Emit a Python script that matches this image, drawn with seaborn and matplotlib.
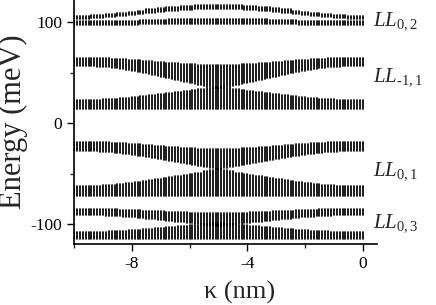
import numpy as np
import pandas as pd
import seaborn as sns
import matplotlib.pyplot as plt
from matplotlib.ticker import MultipleLocator

# kappa grid (nm), one vertical line per value
kappa = [-10.0, -9.9, -9.8, -9.7, -9.6, -9.5, -9.4, -9.3, -9.2, -9.1,
         -9.0, -8.9, -8.8, -8.7, -8.6, -8.5, -8.4, -8.3, -8.2, -8.1,
         -8.0, -7.9, -7.8, -7.7, -7.6, -7.5, -7.4, -7.3, -7.2, -7.1,
         -7.0, -6.9, -6.8, -6.7, -6.6, -6.5, -6.4, -6.3, -6.2, -6.1,
         -6.0, -5.9, -5.8, -5.7, -5.6, -5.5, -5.4, -5.3, -5.2, -5.1,
         -5.0, -4.9, -4.8, -4.7, -4.6, -4.5, -4.4, -4.3, -4.2, -4.1,
         -4.0, -3.9, -3.8, -3.7, -3.6, -3.5, -3.4, -3.3, -3.2, -3.1,
         -3.0, -2.9, -2.8, -2.7, -2.6, -2.5, -2.4, -2.3, -2.2, -2.1,
         -2.0, -1.9, -1.8, -1.7, -1.6, -1.5, -1.4, -1.3, -1.2, -1.1,
         -1.0, -0.9, -0.8, -0.7, -0.6, -0.5, -0.4, -0.3, -0.2, -0.1, 0.0]

# LL(0,2) pair
a_lo = [103, 103, 103, 103, 103, 103, 104, 104, 104, 104, 104, 105, 105, 105, 105,
        106, 106, 106, 106, 107, 107, 107, 108, 108, 108, 109, 109, 109, 109,
        110, 110, 110, 111, 111, 111, 111, 111, 112, 112, 112, 112, 112,
        113, 113, 113, 113, 113, 113, 113, 113, 113, 113, 113, 113, 113, 113, 113, 113, 113,
        112, 112, 112, 112, 112, 111, 111, 111, 111, 111, 110, 110, 110,
        109, 109, 109, 109, 108, 108, 108, 107, 107, 107, 106, 106, 106, 106,
        105, 105, 105, 105, 104, 104, 104, 104, 104, 103, 103, 103, 103, 103, 103]
a_hi = [106, 106, 106, 106, 106, 106, 107, 107, 107, 107, 107, 108, 108, 108, 108,
        109, 109, 109, 109, 110, 110, 110, 111, 111, 111, 113, 113, 113, 113,
        114, 114, 114, 115, 115, 115, 115, 115, 116, 116, 116, 116, 116,
        117, 117, 117, 117, 117, 117, 117, 117, 117, 117, 117, 117, 117, 117, 117, 117, 117,
        116, 116, 116, 116, 116, 115, 115, 115, 115, 115, 114, 114, 114,
        113, 113, 113, 113, 111, 111, 111, 110, 110, 110, 109, 109, 109, 109,
        108, 108, 108, 108, 107, 107, 107, 107, 107, 106, 106, 106, 106, 106, 106]
b_lo = [97, 97, 97, 97, 97, 97, 97, 97, 97, 97, 97, 97, 97, 97, 97, 97, 97, 97, 97, 97, 97, 97, 97,
        98, 98, 98, 98, 98, 98, 98, 98, 98, 98, 98, 98, 98, 98, 98, 98, 98, 98, 98, 98, 98, 98, 98, 98, 98, 98, 98,
        98, 98, 98, 98, 98, 98, 98, 98, 98, 98, 98, 98, 98, 98, 98, 98, 98, 98, 98, 98, 98, 98, 98, 98, 98, 98, 98, 98,
        97, 97, 97, 97, 97, 97, 97, 97, 97, 97, 97, 97, 97, 97, 97, 97, 97, 97, 97, 97, 97, 97, 97]
b_hi = [101, 101, 101, 101, 101, 101, 101, 101, 101, 101, 101, 101, 101, 101, 101, 101, 101, 101, 101, 101, 101, 101, 101,
        102, 102, 102, 102, 102, 102, 102, 102, 102, 102,
        103, 103, 103, 103, 103, 103, 103, 103, 103, 103, 103, 103, 103, 103, 103, 103, 103, 103,
        103, 103, 103, 103, 103, 103, 103, 103, 103, 103, 103, 103, 103, 103, 103, 103, 103,
        102, 102, 102, 102, 102, 102, 102, 102, 102, 102,
        101, 101, 101, 101, 101, 101, 101, 101, 101, 101, 101, 101, 101, 101, 101, 101, 101, 101, 101, 101, 101, 101, 101]

# LL(-1,1) pair
c_lo = [57, 57, 57, 57, 57, 57, 57, 57, 56, 56, 56, 56, 56, 55, 55, 55, 54, 54, 53, 53, 52, 52,
        51, 51, 50, 50, 49, 48, 48, 47, 46, 46, 45, 45, 44, 43, 43, 42, 41, 41, 40, 40, 39,
        38, 38, 37, 36, 36, 35, 35, 34,
        35, 35, 36, 36, 37, 38, 38, 39, 40, 40, 41, 41, 42, 43, 43, 44, 45, 45, 46, 46, 47,
        48, 48, 49, 50, 50, 51, 51, 52, 52, 53, 53, 54, 54, 55, 55, 55, 56, 56, 56, 56, 56,
        57, 57, 57, 57, 57, 57, 57, 57]
c_hi = [65, 65, 65, 65, 65, 65, 65, 65, 65, 65, 65, 65, 65, 64, 64, 64, 64, 64, 64,
        63, 63, 63, 63, 63, 62, 62, 62, 62, 61, 61, 61, 61, 60, 60, 60, 60, 60,
        59, 59, 59, 59, 59, 59, 58, 58, 58, 58, 58, 58, 58, 58, 58, 58, 58, 58, 58, 58, 58,
        59, 59, 59, 59, 59, 59, 60, 60, 60, 60, 60, 61, 61, 61, 61, 62, 62, 62, 62,
        63, 63, 63, 63, 63, 64, 64, 64, 64, 64, 64, 65, 65, 65, 65, 65, 65, 65, 65, 65, 65, 65, 65, 65]
d_lo = [14, 14, 14, 14, 14, 14, 14, 14, 14, 14, 14, 14, 14, 14, 14, 14, 14, 14, 14, 14,
        14, 14, 14, 14, 14, 14, 14, 14, 14, 14, 14, 14, 14, 14, 14, 14, 14, 14, 14, 14,
        14, 14, 14, 14, 14, 14, 14, 14, 14, 14, 14, 14, 14, 14, 14, 14, 14, 14, 14, 14,
        14, 14, 14, 14, 14, 14, 14, 14, 14, 14, 14, 14, 14, 14, 14, 14, 14, 14, 14, 14,
        14, 14, 14, 14, 14, 14, 14, 14, 14, 14, 14, 14, 14, 14, 14, 14, 14, 14, 14, 14, 14]
d_hi = [23, 23, 23, 23, 23, 23, 23, 23, 23, 23, 24, 24, 24, 24, 24, 24, 25, 25, 25, 25,
        26, 26, 26, 27, 27, 27, 28, 28, 28, 29, 29, 29, 30, 30, 30, 31, 31, 31, 32, 32, 32,
        33, 33, 34, 34, 34, 35, 35, 35, 36, 36, 36, 35, 35, 35, 34, 34, 34, 33, 33,
        32, 32, 32, 31, 31, 31, 30, 30, 30, 29, 29, 29, 28, 28, 28, 27, 27, 27, 26, 26, 26,
        25, 25, 25, 25, 24, 24, 24, 24, 24, 24, 23, 23, 23, 23, 23, 23, 23, 23, 23, 23]

# LL(0,1) pair
e_lo = [-28, -28, -28, -28, -28, -28, -28, -28, -28, -29, -29, -29, -29, -29,
        -30, -30, -30, -31, -31, -31, -32, -32, -33, -33, -33, -34, -34, -35, -35,
        -36, -36, -37, -37, -38, -38, -39, -39, -40, -40, -41, -41, -42, -42,
        -43, -43, -44, -44, -45, -45, -46, -46, -46, -45, -45, -44, -44, -43, -43,
        -42, -42, -41, -41, -40, -40, -39, -39, -38, -38, -37, -37, -36, -36,
        -35, -35, -34, -34, -33, -33, -33, -32, -32, -31, -31, -31, -30, -30, -30,
        -29, -29, -29, -29, -29, -28, -28, -28, -28, -28, -28, -28, -28, -28]
e_hi = [-19, -19, -19, -19, -19, -19, -19, -19, -19, -19, -19, -19, -19,
        -20, -20, -20, -20, -20, -20, -21, -21, -21, -21, -21, -22, -22, -22, -22,
        -23, -23, -23, -23, -24, -24, -24, -24, -24, -25, -25, -25, -25, -25, -25,
        -26, -26, -26, -26, -26, -26, -26, -26, -26, -26, -26, -26, -26, -26, -26,
        -25, -25, -25, -25, -25, -25, -24, -24, -24, -24, -24, -23, -23, -23, -23,
        -22, -22, -22, -22, -21, -21, -21, -21, -21, -20, -20, -20, -20, -20, -20,
        -19, -19, -19, -19, -19, -19, -19, -19, -19, -19, -19, -19, -19]
f_lo = [-72, -72, -72, -72, -72, -72, -72, -72, -72, -72, -72, -72, -72, -72, -72, -72, -72, -72, -72, -72,
        -72, -72, -72, -72, -72, -72, -72, -72, -72, -72, -72, -72, -72, -72, -72, -72, -72, -72, -72, -72,
        -72, -72, -72, -72, -72, -72, -72, -72, -72, -72, -72, -72, -72, -72, -72, -72, -72, -72, -72, -72,
        -72, -72, -72, -72, -72, -72, -72, -72, -72, -72, -72, -72, -72, -72, -72, -72, -72, -72, -72, -72,
        -72, -72, -72, -72, -72, -72, -72, -72, -72, -72, -72, -72, -72, -72, -72, -72, -72, -72, -72, -72, -72]
f_hi = [-62, -62, -62, -62, -62, -62, -62, -62, -62, -62, -61, -61, -61, -61, -61,
        -60, -60, -60, -59, -59, -59, -58, -58, -58, -57, -57, -56, -56, -55, -55, -55,
        -54, -54, -53, -53, -52, -52, -52, -51, -51, -50, -50, -49, -49, -49, -48, -48,
        -47, -47, -46, -46, -46, -47, -47, -48, -48, -49, -49, -49, -50, -50, -51, -51,
        -52, -52, -52, -53, -53, -54, -54, -55, -55, -55, -56, -56, -57, -57,
        -58, -58, -58, -59, -59, -59, -60, -60, -60, -61, -61, -61, -61, -61,
        -62, -62, -62, -62, -62, -62, -62, -62, -62, -62]

# LL(0,3) pair
g_lo = [-91, -91, -91, -91, -91, -91, -91, -91, -91, -91, -91, -92, -92, -92, -92, -92, -92,
        -93, -93, -93, -93, -93, -94, -94, -94, -95, -95, -95, -95, -96, -96, -96,
        -97, -97, -97, -98, -98, -98, -98, -99, -99, -99, -100, -100, -100,
        -101, -101, -101, -101, -102, -102, -102, -101, -101, -101, -101, -100, -100, -100,
        -99, -99, -99, -98, -98, -98, -98, -97, -97, -97, -96, -96, -96, -95, -95, -95, -95,
        -94, -94, -94, -93, -93, -93, -93, -93, -92, -92, -92, -92, -92, -92,
        -91, -91, -91, -91, -91, -91, -91, -91, -91, -91, -91]
g_hi = [-85, -85, -85, -85, -85, -85, -85, -85, -85, -85, -85, -85, -85, -85, -85, -85,
        -86, -86, -86, -86, -86, -86, -86, -86, -87, -87, -87, -87, -87, -87, -87, -87,
        -88, -88, -88, -88, -88, -88, -88, -88,
        -89, -89, -89, -89, -89, -89, -89, -89, -89, -89, -89, -89, -89, -89, -89, -89, -89, -89, -89, -89, -89,
        -88, -88, -88, -88, -88, -88, -88, -88, -87, -87, -87, -87, -87, -87, -87, -87,
        -86, -86, -86, -86, -86, -86, -86, -86,
        -85, -85, -85, -85, -85, -85, -85, -85, -85, -85, -85, -85, -85, -85, -85, -85]
h_lo = [-115, -115, -115, -115, -115, -115, -115, -115, -115, -115, -115, -115, -115, -115, -115, -115, -115, -115, -115, -115,
        -115, -115, -115, -115, -115, -115, -115, -115, -115, -115, -115, -115, -115, -115, -115, -115, -115, -115, -115, -115,
        -115, -115, -115, -115, -115, -115, -115, -115, -115, -115, -115, -115, -115, -115, -115, -115, -115, -115, -115, -115,
        -115, -115, -115, -115, -115, -115, -115, -115, -115, -115, -115, -115, -115, -115, -115, -115, -115, -115, -115, -115,
        -115, -115, -115, -115, -115, -115, -115, -115, -115, -115, -115, -115, -115, -115, -115, -115, -115, -115, -115, -115, -115]
h_hi = [-108, -108, -108, -108, -108, -108, -108, -108, -108, -108, -108, -108,
        -107, -107, -107, -107, -107, -107, -107, -106, -106, -106, -106, -106,
        -105, -105, -105, -105, -104, -104, -104, -104, -103, -103, -103, -103,
        -102, -102, -102, -102, -101, -101, -101, -101, -100, -100, -100, -100,
        -99, -99, -99, -99, -99,
        -100, -100, -100, -100, -101, -101, -101, -101, -102, -102, -102, -102,
        -103, -103, -103, -103, -104, -104, -104, -104, -105, -105, -105, -105,
        -106, -106, -106, -106, -106, -107, -107, -107, -107, -107, -107, -107,
        -108, -108, -108, -108, -108, -108, -108, -108, -108, -108, -108, -108]

labels = [r'$LL_{0,2}$', r'$LL_{\text{-}1,1}$', r'$LL_{0,1}$', r'$LL_{0,3}$']
label_e = [101, 46, -48, -99]

bands = {'a': (a_lo, a_hi), 'b': (b_lo, b_hi), 'c': (c_lo, c_hi), 'd': (d_lo, d_hi),
         'e': (e_lo, e_hi), 'f': (f_lo, f_hi), 'g': (g_lo, g_hi), 'h': (h_lo, h_hi)}

rows = []
for name, (lo, hi) in bands.items():
    if len(lo) != len(kappa) or len(hi) != len(kappa):
        raise ValueError(f'{name}: {len(lo)} {len(hi)}')
    for i, k in enumerate(kappa):
        rows.append((k, lo[i], f'{name}{i}'))
        rows.append((k, hi[i], f'{name}{i}'))
df = pd.DataFrame(rows, columns=['kappa', 'energy', 'seg'])

sns.set_style('ticks')
plt.rcParams['font.family'] = ['Liberation Serif', 'DejaVu Serif']
plt.rcParams['mathtext.fontset'] = 'custom'
plt.rcParams['mathtext.rm'] = 'Liberation Serif'
plt.rcParams['mathtext.it'] = 'Liberation Serif:italic'
plt.rcParams['axes.unicode_minus'] = False

fig, ax = plt.subplots(figsize=(4.36, 3.05), dpi=100)
fig.subplots_adjust(left=0.170, right=0.865, bottom=0.20, top=0.999)

sns.lineplot(data=df, x='kappa', y='energy', units='seg', estimator=None, sort=False,
             color='black', linewidth=1.25, legend=False, ax=ax)

ax.set_xlim(-10, 0.5)
ax.set_ylim(-120, 122)
ax.xaxis.set_major_locator(MultipleLocator(4))
ax.xaxis.set_minor_locator(MultipleLocator(2))
ax.yaxis.set_major_locator(MultipleLocator(100))
ax.yaxis.set_minor_locator(MultipleLocator(50))
ax.tick_params(which='major', direction='out', length=5, width=1, labelsize=12.5, colors='black')
ax.tick_params(which='minor', direction='out', length=3, width=1)
for s in ['left', 'bottom']:
    ax.spines[s].set_linewidth(1.2)
    ax.spines[s].set_color('black')
sns.despine(ax=ax)

ax.set_xlabel('κ (nm)', fontsize=19)
ax.xaxis.set_label_coords(0.545, -0.15)
ax.set_ylabel('Energy (meV)', fontsize=22, labelpad=2)

for t, e in zip(labels, label_e):
    ax.text(0.35, e, t, fontsize=15, ha='left', va='center', clip_on=False)

fig.savefig('out.png', dpi=100)
